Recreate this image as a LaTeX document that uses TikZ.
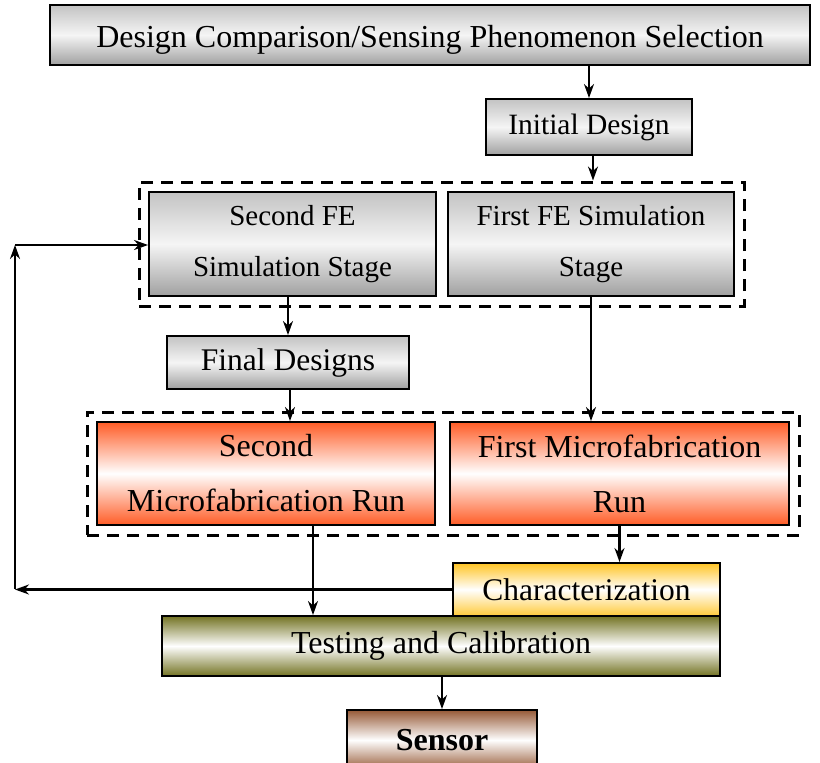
\documentclass[tikz,border=0pt]{standalone}
\usepackage{fontspec}
\setmainfont{Liberation Serif}
\usetikzlibrary{arrows.meta,fit}
\definecolor{grayedge}{RGB}{195,195,195}
\definecolor{graydark}{RGB}{160,160,160}
\definecolor{orng}{RGB}{255,92,38}
\definecolor{gold}{RGB}{255,196,36}
\definecolor{olive}{RGB}{115,115,35}
\definecolor{brwn}{RGB}{150,90,55}
\newcommand{\fsz}[1]{\fontsize{#1}{51}\selectfont}
\tikzset{
  box/.style={draw=black,line width=2pt,inner sep=0pt,align=center,font=\fsz{29}},
  graybox/.style={box,top color=grayedge,bottom color=graydark,middle color=white!92!gray},
  orangebox/.style={box,top color=orng,bottom color=orng,middle color=white,font=\fontsize{32}{55}\selectfont},
  goldbox/.style={box,top color=gold,bottom color=gold!90,middle color=white},
  olivebox/.style={box,top color=olive,bottom color=olive,middle color=white},
  brownbox/.style={box,top color=brwn,bottom color=brwn,middle color=white},
  group/.style={draw=black,line width=3pt,dash pattern=on 12pt off 8pt,inner sep=9pt},
  arr/.style={line width=2.2pt,-{Stealth[length=14pt,width=10pt]}}
}
\begin{document}
\begin{tikzpicture}[x=1pt,y=-1pt]
\useasboundingbox (0,0) rectangle (820,763);
\begin{scope}
\clip (0,0) rectangle (820,763);
% process boxes
\node[graybox,minimum width=760pt,minimum height=60pt,font=\fsz{32}] (top) at (430,35) {\smash{\raisebox{-12pt}{Design Comparison/Sensing Phenomenon Selection}}};
\node[graybox,minimum width=206pt,minimum height=56pt,font=\fsz{29.5}] (init) at (589,127) {Initial Design};
\node[graybox,minimum width=287pt,minimum height=104pt] (fe2) at (292.5,244) {Second FE\\Simulation Stage};
\node[graybox,minimum width=286pt,minimum height=104pt] (fe1) at (591,244) {First FE Simulation\\Stage};
\node[group,fit=(fe2)(fe1)] (grp1) {};
\node[graybox,minimum width=242pt,minimum height=53pt,font=\fsz{31.5}] (fin) at (288,362.5) {Final Designs};
\node[orangebox,minimum width=338pt,minimum height=103pt] (mf2) at (266,473.5) {Second\\Microfabrication Run};
\node[orangebox,minimum width=339pt,minimum height=103pt] (mf1) at (619.5,473.5) {First Microfabrication\\Run};
\node[group,fit=(mf2)(mf1)] (grp2) {};
\node[goldbox,minimum width=267pt,minimum height=53pt,font=\fsz{31.5}] (char) at (586.5,589.5) {Characterization};
\node[olivebox,minimum width=558pt,minimum height=60pt,font=\fsz{32}] (test) at (441,646) {Testing and Calibration};
\node[brownbox,minimum width=190pt,minimum height=60pt,font=\fsz{32}\bfseries] (sensor) at (442,740) {\smash{\raisebox{-10pt}{Sensor}}};
% connectors
\coordinate (lc) at (15,589);
\coordinate (uc) at (15,245);
\draw[arr] (top.south -| init) -- (init.north);
\draw[arr] ([xshift=4pt]init.south) -- ([xshift=4pt]init.south |- grp1.north);
\draw[arr] (fe2.south -| fin) -- (fin.north);
\draw[arr] ([xshift=2pt]fin.south) -- ([xshift=2pt]fin.south |- mf2.north);
\draw[arr] (fe1.south) -- (fe1.south |- mf1.north);
\draw[arr] (mf1.south) -- (mf1.south |- char.north);
\draw[arr] ([xshift=47pt]mf2.south) -- ([xshift=47pt]mf2.south |- test.north);
\draw[arr] (test.south -| sensor) -- (sensor.north);
\draw[arr] (char.west) -- (char.west -| lc);
\draw[arr] (lc) -- (uc);
\draw[arr] (uc) -- (uc -| fe2.west);
\end{scope}
\end{tikzpicture}
\end{document}
